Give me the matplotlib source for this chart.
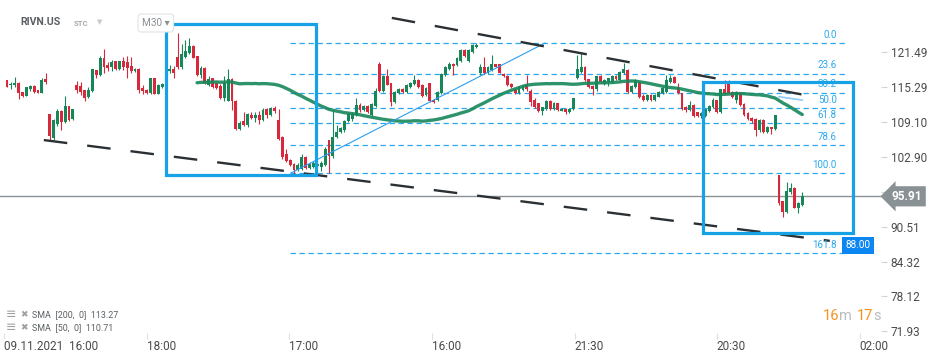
import matplotlib.pyplot as plt
import matplotlib.transforms as mtransforms
from matplotlib.patches import Rectangle
import numpy as np
import pandas as pd

plt.rcParams['font.family'] = ['Roboto', 'DejaVu Sans']

# RIVN.US M30 candles (open, high, low, close)
opens = [
    116.6, 115.6, 115.6, 116.1, 114.4, 113.8, 114.9, 115.5, 114.8, 114.3,
    116.8, 110.5, 106.3, 108.8, 111.0, 109.1, 111.9, 109.6, 115.7, 115.5,
    114.8, 113.6, 114.7, 118.3, 117.4, 120.5, 119.3, 118.8, 119.9, 118.5,
    119.9, 119.8, 119.1, 118.1, 118.6, 115.1, 114.8, 114.2, 116.9, 114.1,
    115.4, 115.9, 118.2, 118.5, 120.6, 118.8, 120.7, 121.4, 122.6, 120.8,
    117.5, 118.7, 115.7, 116.9, 116.1, 115.5, 113.3, 112.9, 116.7, 112.9,
    107.9, 109.3, 108.5, 110.4, 109.8, 110.3, 109.4, 111.4, 110.4, 111.6,
    109.4, 106.4, 103.4, 102.4, 101.7, 100.6, 100.8, 102.9, 100.9, 101.2,
    101.3, 101.2, 101.5, 105.9, 103.0, 106.4, 107.4, 107.6, 109.3, 109.6,
    110.4, 112.1, 111.2, 112.0, 110.4, 111.9, 119.5, 114.7, 117.3, 116.0,
    112.7, 114.2, 114.9, 114.5, 115.4, 115.9, 116.6, 115.7, 113.9, 116.0,
    113.1, 113.0, 114.3, 117.5, 118.6, 119.4, 119.2, 120.0, 121.9, 120.0,
    121.6, 122.5, 117.8, 118.8, 117.9, 118.4, 119.4, 119.4, 117.6, 117.3,
    115.9, 114.9, 114.3, 114.8, 115.7, 114.7, 113.1, 112.4, 111.1, 111.5,
    112.9, 111.5, 112.4, 111.1, 111.5, 110.9, 111.4, 116.9, 118.0, 118.9,
    116.7, 115.5, 114.9, 117.3, 115.9, 116.3, 116.3, 117.3, 116.6, 117.8,
    118.4, 114.4, 115.3, 116.3, 113.7, 113.0, 113.9, 113.0, 113.6, 114.2,
    114.5, 116.3, 117.1, 115.1, 114.2, 111.8, 111.2, 112.1, 110.8, 110.2,
    110.2, 111.0, 111.8, 113.0, 110.9, 115.0, 116.0, 114.5, 113.1, 114.3,
    112.3, 110.7, 109.9, 109.7, 107.6, 109.5, 107.4, 108.2, 107.8, 99.7,
    95.0, 93.2, 96.6, 97.4, 93.8, 94.4,
]
highs = [
    116.6, 116.2, 117.1, 116.3, 114.4, 115.4, 115.6, 115.6, 114.8, 116.9,
    117.9, 110.5, 109.6, 111.4, 111.2, 113.8, 112.0, 111.5, 116.4, 116.3,
    114.8, 115.3, 118.5, 118.4, 120.9, 122.0, 119.8, 120.2, 120.0, 120.0,
    120.7, 120.8, 120.7, 118.7, 118.7, 115.7, 115.0, 117.0, 117.0, 115.8,
    116.0, 118.7, 119.2, 119.0, 124.9, 122.9, 123.7, 124.1, 122.7, 120.9,
    119.0, 118.8, 117.3, 117.0, 116.2, 115.9, 117.3, 118.5, 116.9, 113.0,
    109.2, 110.9, 110.7, 110.9, 110.9, 111.1, 111.6, 111.6, 111.7, 111.9,
    111.4, 106.6, 104.4, 102.5, 101.8, 101.8, 103.4, 103.0, 101.9, 102.1,
    102.0, 102.1, 104.6, 106.0, 111.2, 108.5, 108.2, 109.5, 110.8, 110.8,
    113.3, 112.4, 112.2, 112.2, 112.5, 115.2, 119.8, 117.5, 118.5, 116.1,
    114.7, 115.1, 115.1, 115.9, 116.3, 117.4, 116.8, 115.8, 115.3, 116.1,
    113.2, 114.7, 117.8, 119.1, 119.8, 119.6, 120.7, 122.1, 122.0, 122.1,
    123.0, 123.1, 119.4, 120.6, 119.1, 121.0, 119.5, 119.5, 117.8, 117.4,
    116.0, 115.0, 115.5, 115.6, 117.5, 114.9, 113.3, 112.5, 111.8, 113.0,
    113.0, 112.6, 112.5, 111.6, 111.6, 111.6, 113.4, 121.0, 121.3, 119.0,
    116.8, 115.6, 117.3, 117.4, 116.7, 117.0, 117.4, 117.4, 118.1, 119.6,
    118.5, 115.7, 116.7, 116.4, 114.0, 114.0, 114.0, 114.1, 114.7, 115.5,
    117.5, 117.5, 117.2, 116.0, 114.3, 111.9, 112.8, 112.3, 110.9, 110.8,
    111.5, 112.1, 113.3, 113.1, 115.0, 116.6, 116.6, 114.6, 114.6, 114.5,
    112.4, 110.8, 110.0, 109.8, 109.6, 109.7, 108.4, 108.3, 110.4, 99.7,
    95.1, 98.5, 98.3, 97.5, 94.9, 96.6,
]
lows = [
    115.3, 114.9, 115.4, 113.2, 113.5, 113.7, 114.6, 114.2, 114.3, 114.3,
    115.9, 105.9, 106.0, 108.4, 107.7, 109.0, 109.3, 109.5, 114.3, 113.9,
    112.9, 113.3, 114.5, 116.9, 117.3, 117.9, 118.2, 118.2, 118.4, 118.3,
    118.3, 117.0, 117.9, 118.0, 114.2, 114.1, 114.0, 114.1, 114.0, 114.0,
    115.2, 115.7, 117.9, 116.9, 118.6, 118.5, 120.5, 121.2, 120.4, 117.3,
    117.0, 115.9, 115.5, 115.1, 115.0, 113.2, 112.8, 112.8, 111.3, 107.7,
    107.6, 108.4, 108.3, 109.6, 109.1, 108.7, 109.2, 109.9, 110.2, 110.7,
    105.9, 102.6, 102.0, 101.3, 99.9, 100.4, 100.6, 100.7, 100.8, 101.0,
    101.1, 100.4, 101.3, 100.0, 102.8, 106.2, 107.2, 107.4, 109.1, 109.3,
    110.2, 110.9, 111.0, 110.7, 110.2, 111.8, 114.5, 114.5, 115.6, 111.9,
    112.5, 114.0, 114.3, 114.3, 115.2, 115.7, 115.2, 113.5, 113.7, 112.7,
    112.5, 112.8, 114.1, 117.3, 118.4, 117.5, 119.0, 119.8, 120.6, 119.8,
    121.4, 122.3, 117.5, 117.6, 117.7, 118.2, 118.8, 117.8, 117.1, 115.5,
    115.1, 114.1, 114.1, 114.6, 114.7, 112.0, 111.6, 110.8, 110.4, 111.3,
    111.3, 111.3, 111.0, 111.0, 110.5, 110.7, 111.2, 116.7, 117.8, 116.4,
    115.1, 113.9, 114.7, 116.1, 115.7, 115.5, 116.1, 116.5, 116.4, 117.6,
    114.2, 114.2, 115.1, 113.3, 112.8, 112.9, 112.9, 112.9, 113.5, 114.0,
    114.3, 116.1, 116.0, 114.0, 111.3, 110.9, 111.0, 110.0, 110.0, 109.9,
    110.0, 110.8, 111.6, 110.7, 110.7, 114.0, 114.0, 113.4, 112.4, 111.9,
    110.2, 109.4, 109.0, 106.6, 107.4, 107.2, 107.2, 106.9, 107.6, 94.4,
    92.2, 93.0, 96.4, 93.8, 92.9, 94.2,
]
closes = [
    115.4, 115.9, 116.1, 114.2, 113.8, 115.4, 115.5, 114.4, 114.3, 116.6,
    116.2, 106.6, 109.5, 111.0, 109.1, 111.9, 109.5, 111.4, 114.8, 114.4,
    113.4, 114.8, 118.5, 117.4, 120.5, 118.9, 118.7, 119.8, 118.5, 119.9,
    118.8, 118.7, 118.1, 118.6, 114.8, 114.7, 114.2, 116.9, 114.1, 115.7,
    115.9, 118.5, 118.6, 117.9, 118.8, 121.2, 121.8, 122.6, 120.5, 117.5,
    118.7, 116.1, 116.8, 115.3, 115.2, 113.4, 116.0, 116.8, 112.8, 107.9,
    109.0, 108.6, 110.5, 109.8, 110.4, 109.4, 111.2, 110.4, 111.6, 111.0,
    106.1, 102.9, 102.2, 101.5, 100.5, 101.5, 102.9, 100.9, 101.7, 101.8,
    101.7, 101.9, 104.4, 103.0, 106.5, 107.4, 108.0, 109.3, 110.6, 110.6,
    112.1, 111.2, 111.9, 110.9, 112.3, 114.7, 114.7, 117.3, 115.7, 112.7,
    114.5, 114.9, 114.5, 115.7, 116.1, 116.6, 115.4, 113.7, 115.1, 112.9,
    112.7, 114.5, 117.6, 118.9, 119.4, 119.0, 120.5, 121.9, 120.8, 121.9,
    122.8, 122.8, 118.9, 117.8, 118.9, 119.4, 118.9, 117.9, 117.3, 115.7,
    115.3, 114.3, 115.4, 115.5, 114.9, 112.7, 111.8, 111.1, 111.7, 112.9,
    111.5, 112.5, 111.2, 111.5, 110.8, 111.5, 113.3, 118.5, 118.9, 116.6,
    115.3, 114.9, 117.2, 116.3, 116.5, 116.9, 117.3, 116.7, 118.0, 118.5,
    114.4, 115.5, 116.5, 113.5, 113.1, 113.9, 113.0, 113.9, 114.5, 115.1,
    116.6, 116.9, 116.1, 114.2, 111.5, 111.2, 112.1, 110.2, 110.2, 110.7,
    111.4, 112.0, 113.1, 110.9, 114.9, 114.2, 114.2, 113.6, 114.5, 112.1,
    110.4, 109.6, 109.2, 107.6, 109.5, 107.4, 108.3, 107.8, 110.3, 94.8,
    93.2, 96.9, 97.3, 93.9, 94.8, 95.91,
]

# fibonacci retracement drawn between these two prices
fib_top = 123.14
fib_bottom = 100.05
fib_ratios = [0.0, 23.6, 38.2, 50.0, 61.8, 78.6, 100.0, 161.8]
fib_labels = ['0.0', '23.6', '38.2', '50.0', '61.8', '78.6', '100.0', '161.8']

# hand drawn tools: (candle index, price)
lower_trend = [(9.5, 105.9), (212.1, 88.0)]
upper_trend = [(99.2, 127.6), (205.7, 113.9)]
fib_anchor = [(73.2, fib_bottom), (138.7, fib_top)]
boxes = [((41.0, 99.7), (79.6, 126.5)), ((179.4, 89.4), (218.0, 116.2))]
trend_end_label = '88.00'

price_ticks = [121.49, 115.29, 109.10, 102.90, 96.71, 90.51, 84.32, 78.12, 71.93]
time_labels = ['09.11.2021  16:00', '18:00', '17:00', '16:00', '21:30', '20:30', '02:00']
time_ticks = [-0.8, 36.1, 72.7, 109.5, 146.4, 183.0, 219.8]

sma_legend = ['SMA  [200,  0]  113.27', 'SMA  [50,  0]  110.71']

GREEN = '#17875a'
RED = '#d8283b'
FIB = '#2aa8ef'
BOXC = '#17a2e6'

W, H = 950, 361
fig = plt.figure(figsize=(W / 100, H / 100), dpi=100)
ax = fig.add_axes([0, (H - 333) / H, 881 / W, 333 / H])

o = np.array(opens)
h = np.array(highs)
l = np.array(lows)
c = np.array(closes)
x = np.arange(len(c))
col = np.where(c >= o, GREEN, RED)

# fib levels
for r, lab in zip(fib_ratios, fib_labels):
    lvl = fib_top - r / 100 * (fib_top - fib_bottom)
    ax.plot([73.0, 216.5], [lvl, lvl], color=FIB, lw=0.9, dashes=(4.3, 2.9), zorder=1)
    ax.annotate(lab, (213.9, lvl), xytext=(0, 2.5), textcoords='offset points',
                ha='right', va='bottom', fontsize=7, color=FIB, zorder=6)

# current price line
ax.axhline(c[-1], color='#8a9094', lw=1, zorder=1)

# candles
ax.vlines(x, l, h, colors=col, lw=0.8, zorder=3)
ax.bar(x, np.maximum(np.abs(c - o), 0.12), bottom=np.minimum(o, c), width=0.74,
       color=col, zorder=3)

# moving averages
s = pd.Series(c)
ax.plot(x, s.rolling(50).mean(), color=GREEN, lw=2.4, alpha=0.9, zorder=4,
        solid_capstyle='round')
ax.plot(x, s.rolling(200).mean(), color='#8fcaf5', lw=1.2, zorder=4)

# drawing tools
(ax1, ay1), (ax2, ay2) = fib_anchor
ax.plot([ax1, ax2], [ay1, ay2], color='#2a9df4', lw=0.8, zorder=4)
for pts in (lower_trend, upper_trend):
    ax.plot([p[0] for p in pts], [p[1] for p in pts], color='#2b3034', lw=1.7,
            dashes=(10, 8.5), zorder=5)
for (x0, y0), (x1, y1) in boxes:
    ax.add_patch(Rectangle((x0, y0), x1 - x0, y1 - y0, fill=False, ec=BOXC,
                           lw=2.3, zorder=6))

ax.annotate(trend_end_label, (lower_trend[1][0] + 4.1, lower_trend[1][1]),
            xytext=(0, -3), textcoords='offset points', ha='left', va='center',
            fontsize=7.2, color='white', zorder=7, annotation_clip=False,
            bbox=dict(boxstyle='square,pad=0.35', fc='#0c86f0', ec='none'))

ax.set_xlim(-1.8, 225.3)
ax.set_ylim(71.63, 130.78)
for sp in ax.spines.values():
    sp.set_visible(False)

ax.yaxis.tick_right()
ax.set_yticks(price_ticks)
ax.set_yticklabels([f'{v:.2f}' for v in price_ticks])
ax.tick_params(axis='y', length=4, color='#d4d4d4', labelcolor='#4a4a4a',
               labelsize=8.5, pad=3)
ax.set_xticks(time_ticks)
ax.set_xticklabels(time_labels, ha='left')
ax.tick_params(axis='x', length=4, color='#e0e0e0', labelcolor='#4a4a4a',
               labelsize=8.5, pad=1)

# current price box on the scale
trans = mtransforms.blended_transform_factory(ax.transAxes, ax.transData)
ax.text(1.012, c[-1], f'{c[-1]:.2f}', transform=trans, ha='left', va='center',
        fontsize=8.6, fontweight='bold', color='white', zorder=8, clip_on=False,
        bbox=dict(boxstyle='larrow,pad=0.3', fc='#899195', ec='none'))

# header
fig.text(20 / W, 1 - 22 / H, 'RIVN.US', fontsize=7.6, fontweight='bold', color='#5a5f63', va='center')
fig.text(74 / W, 1 - 23 / H, 'STC', fontsize=5.6, fontweight='bold', color='#a8adb0', va='center')
fig.text(97 / W, 1 - 22 / H, '▼', fontsize=5, color='#c6c9cb', va='center', family='DejaVu Sans')
fig.text(142 / W, 1 - 23 / H, 'M30 ▾', fontsize=7.2, color='#8a8f92', va='center',
         bbox=dict(boxstyle='round,pad=0.4,rounding_size=0.3', fc='white', ec='#e2e4e6', lw=0.8))

# indicator legend
for i, t in enumerate(sma_legend):
    yy = 1 - (314.7 + 13.3 * i) / H
    fig.text(6 / W, yy, '≡', fontsize=9, color='#9aa0a3', va='center', family='DejaVu Sans')
    fig.text(20 / W, yy, '✖', fontsize=6.5, color='#9aa0a3', va='center', family='DejaVu Sans')
    fig.text(32 / W, yy, t, fontsize=6.4, color='#5a5f63', va='center')

# candle countdown
for xp, t, cc in [(823, '16', '#f5931f'), (839, 'm', '#b9bdc0'),
                  (857, '17', '#f5931f'), (873, 's', '#b9bdc0')]:
    fig.text(xp / W, 1 - 316 / H, t, fontsize=10.5, color=cc, va='center')

fig.savefig('out.png', dpi=100)
